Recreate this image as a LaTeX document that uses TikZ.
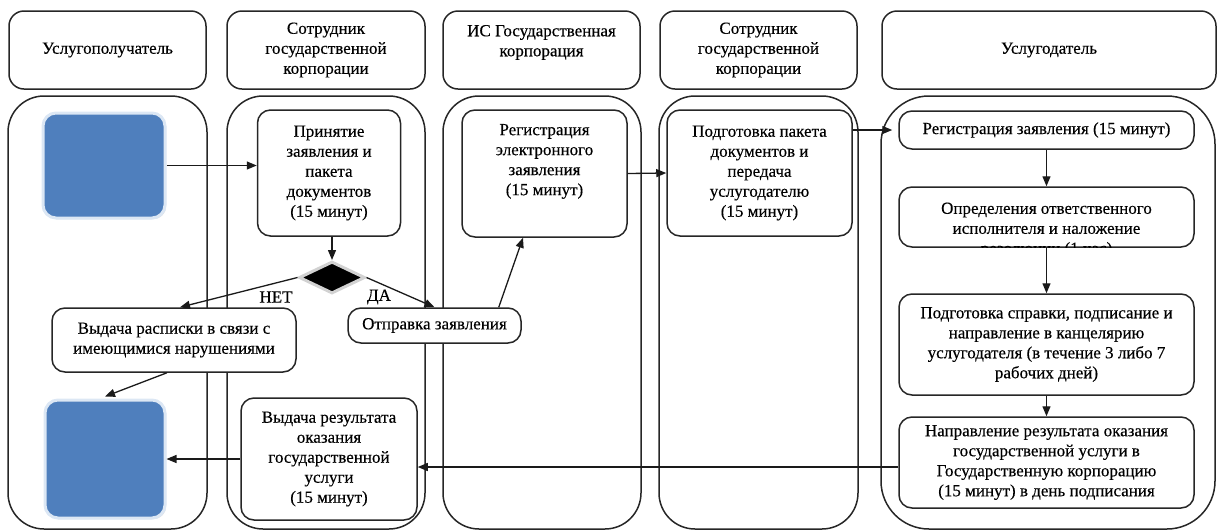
\documentclass[tikz,border=0pt]{standalone}
\usepackage{fontspec}
\newfontfamily\cellfam{Liberation Serif}[FakeBold=0.3]
\usetikzlibrary{arrows.meta,shapes.geometric,shadows}

\definecolor{linecol}{HTML}{262626}
\definecolor{arrowcol}{HTML}{1A1A1A}
\definecolor{termblue}{HTML}{4F7FBD}
\definecolor{termedge}{HTML}{DCE7F4}
\definecolor{diaedge}{HTML}{D2D2D2}

\newcommand\cellfont{\cellfam\fontsize{17}{20}\selectfont}
% text block pinned to the top of a box of fixed height
\newcommand\topcell[4]{\parbox[c][#1][t]{#2}{\centering\vspace*{#3}#4}}

\tikzset{
  lane/.style={draw=linecol, line width=1.5pt},
  hdr/.style={draw=linecol, line width=1.5pt, rounded corners=15pt, fill=white,
              align=center, inner sep=0pt, font=\cellfont},
  proc/.style={draw=linecol, line width=1.5pt, rounded corners=13pt, fill=white,
               align=center, inner sep=0pt, font=\cellfont},
  txt/.style={align=center, inner sep=0pt, font=\cellfont},
  flow/.style={draw=arrowcol, line width=1.3pt, -{Triangle[length=10pt,width=8pt]}},
  term/.style={fill=termblue, draw=termedge, line width=3pt, rounded corners=13pt,
               inner sep=0pt,
               drop shadow={shadow xshift=1.2pt, shadow yshift=-1.2pt, opacity=0.25, fill=black!60}},
  choice/.style={diamond, fill=black, draw=diaedge, line width=3pt, inner sep=0pt},
  lbl/.style={font=\cellfont, inner sep=1pt}
}

\begin{document}
\begin{tikzpicture}[x=1pt,y=-1pt]
\useasboundingbox (0,0) rectangle (1219,531);

% swimlanes
\draw[lane, rounded corners=36pt] (8,96) rectangle (207,529);
\draw[lane, rounded corners=36pt] (227,96) rectangle (425,529);
\draw[lane, rounded corners=36pt] (443,96) rectangle (641,529);
\draw[lane, rounded corners=36pt] (659,96) rectangle (858,529);
\draw[lane, rounded corners=48pt] (881,96) rectangle (1215,529);

% lane headers
\node[hdr, minimum width=197pt, minimum height=78pt] (h1) at (107.5,50)
  {Услугополучатель};
\node[hdr, minimum width=198pt, minimum height=78pt] (h2) at (326,50)
  {Сотрудник\\государственной\\корпорации};
\node[hdr, minimum width=197pt, minimum height=78pt] (h3) at (541.5,50)
  {\topcell{78pt}{190pt}{14pt}{ИС Государственная\\корпорация}};
\node[hdr, minimum width=197pt, minimum height=78pt] (h4) at (758.5,50)
  {Сотрудник\\государственной\\корпорации};
\node[hdr, minimum width=334pt, minimum height=78pt] (h5) at (1049,50)
  {Услугодатель};

% service recipient
\node[term, minimum width=122pt, minimum height=105pt] (start) at (104,165.5) {};
\node[term, minimum width=120pt, minimum height=118pt] (finish) at (105,459) {};

% state corporation employee
\node[proc, minimum width=143pt, minimum height=126pt] (accept) at (329,173)
  {Принятие\\заявления и\\пакета\\документов\\(15 минут)};
\node[choice, minimum width=66pt, minimum height=32pt] (check) at (332,277.5) {};
\node[lbl] (no) at (276,297) {НЕТ};
\node[lbl] (yes) at (379,297) {ДА};
\node[proc, minimum width=244pt, minimum height=64pt] (receipt) at (174,340)
  {Выдача расписки в связи с\\имеющимися нарушениями};
\node[proc, minimum width=173pt, minimum height=35pt] (send) at (434.5,325.5)
  {Отправка заявления};
\node[proc, minimum width=176pt, minimum height=122pt] (issue) at (329,459)
  {Выдача результата\\оказания\\государственной\\услуги\\(15 минут)};

% information system
\node[proc, minimum width=165pt, minimum height=127pt] (ereg) at (544.5,173.5)
  {\topcell{127pt}{160pt}{14pt}{Регистрация\\электронного\\заявления\\(15 минут)}};

% state corporation employee (second lane)
\node[proc, minimum width=185pt, minimum height=126pt] (pack) at (759.5,173)
  {Подготовка пакета\\документов и\\передача\\услугодателю\\(15 минут)};

% service provider
\node[proc, minimum width=295pt, minimum height=38pt] (reg) at (1046.5,130)
  {Регистрация заявления (15 минут)};
\node[proc, minimum width=295pt, minimum height=60pt] (assign) at (1046.5,217) {};
\begin{scope}
  \clip (assign.south west) rectangle (assign.north east);
  \node[txt] (assigntext) at ([yshift=-13pt]assign.center)
    {Определения ответственного\\исполнителя и наложение\\резолюции (1 час)};
\end{scope}
\node[proc, minimum width=295pt, minimum height=101pt] (cert) at (1046.5,344.5)
  {Подготовка справки, подписание и\\направление в канцелярию\\услугодателя (в течение 3 либо 7\\рабочих дней)};
\node[proc, minimum width=295pt, minimum height=91pt] (result) at (1046.5,462.5)
  {Направление результата оказания\\государственной услуги в\\Государственную корпорацию\\(15 минут) в день подписания};

% connectors
\draw[flow] (start.east) -- (start.east -| accept.west);
\draw[flow] (accept.south -| check.north) -- (check.north);
\draw[flow] (check.west) -- ([xshift=6pt]receipt.north);
\draw[flow] (check.east) -- (send.north);
\draw[flow] ([xshift=-7pt]receipt.south) -- ([yshift=2pt]finish.north);
\draw[flow] (send.north east) ++(-23pt,0) -- ([xshift=-21.5pt]ereg.south);
\draw[flow] (ereg.east) -- (pack.west);
\draw[flow] (pack.east |- reg.west) -- ([xshift=-6pt]reg.west);
\draw[flow] (reg.south) -- (assign.north);
\draw[flow] (assign.south) -- (cert.north);
\draw[flow] (cert.south) -- (result.north);
\draw[flow] ([yshift=-4.5pt]result.west) -- ([yshift=-4.5pt]result.west -| issue.east);
\draw[flow] (issue.west) -- (finish.east);
\end{tikzpicture}
\end{document}
